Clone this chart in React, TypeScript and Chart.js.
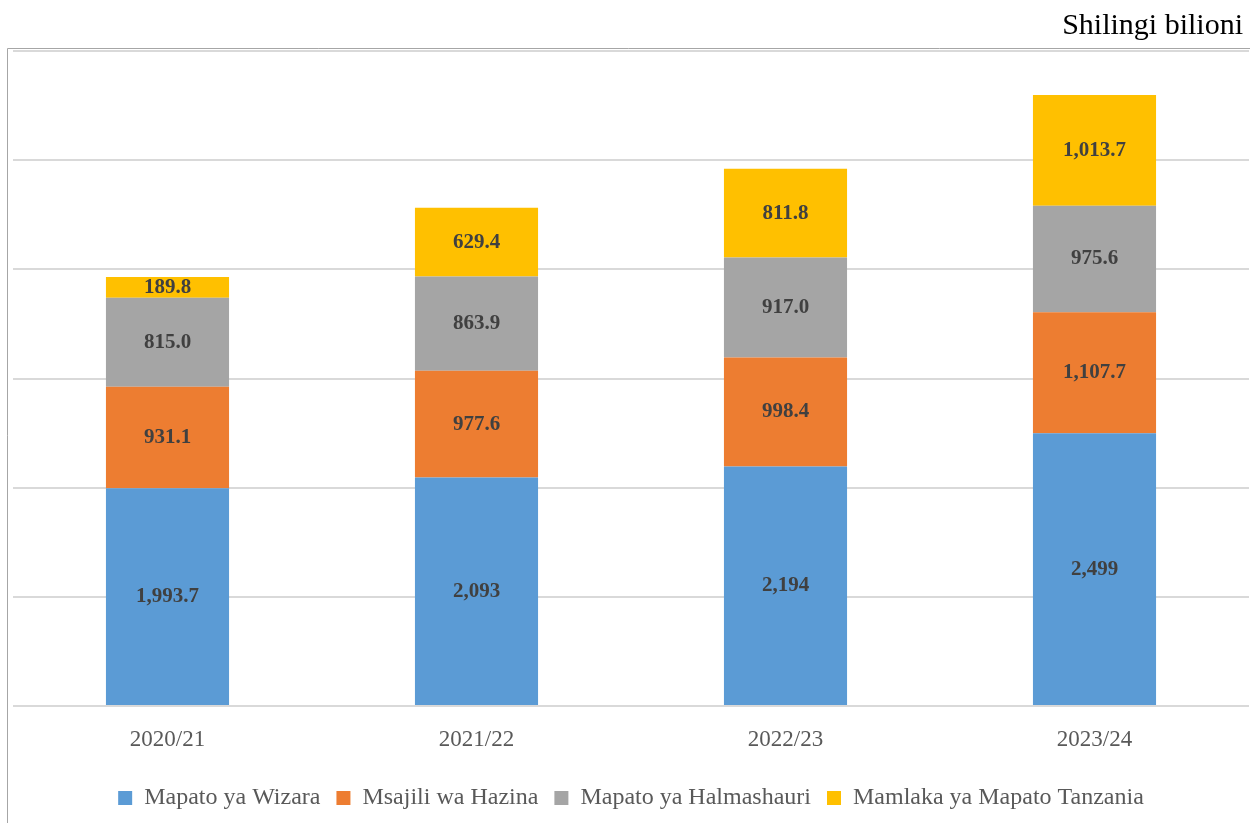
import React, { useEffect, useRef } from "react";
import { Chart, registerables } from "chart.js";

Chart.register(...registerables);

const categories = ["2020/21", "2021/22", "2022/23", "2023/24"];
const seriesNames = ["Mapato ya Wizara", "Msajili wa Hazina", "Mapato ya Halmashauri", "Mamlaka ya Mapato Tanzania"];
const wizara = [1993.7, 2093, 2194, 2499];
const hazina = [931.1, 977.6, 998.4, 1107.7];
const halmashauri = [815.0, 863.9, 917.0, 975.6];
const tra = [189.8, 629.4, 811.8, 1013.7];
const wizaraLabels = ["1,993.7", "2,093", "2,194", "2,499"];
const hazinaLabels = ["931.1", "977.6", "998.4", "1,107.7"];
const halmashauriLabels = ["815.0", "863.9", "917.0", "975.6"];
const traLabels = ["189.8", "629.4", "811.8", "1,013.7"];
const unitTitle = "Shilingi bilioni";

const colors = ["#5B9BD5", "#ED7D31", "#A5A5A5", "#FFC000"];
const FONT = "'Liberation Serif', serif";

export default function App() {
  const ref = useRef<HTMLCanvasElement | null>(null);
  useEffect(() => {
    if (!ref.current) return;
    const labelSets = [wizaraLabels, hazinaLabels, halmashauriLabels, traLabels];
    const framePlugin = {
      id: "frame",
      beforeDraw(chart: any) {
        const ctx = chart.ctx;
        ctx.save();
        ctx.strokeStyle = "#A6A6A6";
        ctx.lineWidth = 1;
        ctx.beginPath();
        ctx.moveTo(7.5, 823);
        ctx.lineTo(7.5, 48.5);
        ctx.lineTo(1250, 48.5);
        ctx.stroke();
        ctx.fillStyle = "#000000";
        ctx.font = `30px ${FONT}`;
        ctx.textAlign = "right";
        ctx.textBaseline = "middle";
        ctx.fillText(unitTitle, 1243, 26);
        ctx.restore();
      },
    };
    const labelPlugin = {
      id: "barLabels",
      afterDatasetsDraw(chart: any) {
        const ctx = chart.ctx;
        ctx.save();
        ctx.fillStyle = "#404040";
        ctx.font = `bold 21px ${FONT}`;
        ctx.textAlign = "center";
        ctx.textBaseline = "middle";
        chart.data.datasets.forEach((ds: any, di: number) => {
          const meta = chart.getDatasetMeta(di);
          meta.data.forEach((el: any, i: number) => {
            const y = (el.y + el.base) / 2;
            ctx.fillText(labelSets[di][i], el.x, y);
          });
        });
        ctx.restore();
      },
    };
    const chart = new Chart(ref.current, {
      type: "bar",
      data: {
        labels: categories,
        datasets: [wizara, hazina, halmashauri, tra].map((d, i) => ({
          label: seriesNames[i],
          data: d,
          backgroundColor: colors[i],
          borderWidth: 0,
          barPercentage: 0.8,
          categoryPercentage: 0.498,
        })),
      },
      options: {
        responsive: false,
        animation: false,
        layout: { padding: { left: 13, right: 1, top: 51, bottom: 3 } },
        scales: {
          x: {
            stacked: true,
            grid: { display: false, drawTicks: false },
            border: { display: false },
            ticks: { color: "#595959", font: { family: FONT, size: 23 }, padding: 20 },
            afterFit(scale: any) {
              scale.height = 64;
            },
          },
          y: {
            stacked: true,
            min: 0,
            max: 6000,
            ticks: { display: false, stepSize: 1000 },
            grid: { color: "#D9D9D9", lineWidth: 2, drawTicks: false },
            border: { display: false },
            afterFit(scale: any) {
              scale.width = 0;
            },
          },
        },
        plugins: {
          legend: {
            position: "bottom",
            labels: {
              color: "#595959",
              font: { family: FONT, size: 24 },
              boxWidth: 14,
              boxHeight: 14,
              padding: 16,
            },
          },
          tooltip: { enabled: false },
        },
      },
      plugins: [framePlugin, labelPlugin],
    });
    return () => chart.destroy();
  }, []);
  return (
    <div style={{ position: "absolute", left: 0, top: 0, width: 1250, height: 823, background: "#fff" }}>
      <canvas ref={ref} width={1250} height={823} style={{ display: "block" }} />
    </div>
  );
}
